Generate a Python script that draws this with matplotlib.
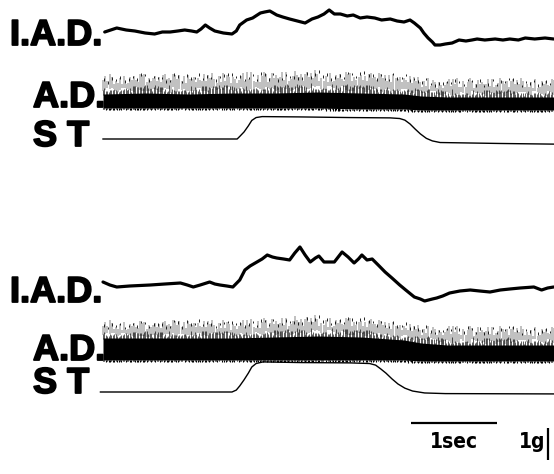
import numpy as np
import matplotlib
matplotlib.use("Agg")
import matplotlib.pyplot as plt
from matplotlib import font_manager
from matplotlib.font_manager import FontProperties
import matplotlib.patheffects as pe

# ---------------- data ----------------
# Upper record: I.A.D. (arbitrary units)
iad1_t = [0.02,0.09,0.16,0.27,0.37,0.49,0.60,0.69,0.78,0.87,0.95,1.03,1.09,1.14,1.19,
          1.24,1.30,1.40,1.50,1.55,1.59,1.67,1.74,1.83,1.88,1.94,2.02,2.09,2.17,2.26,
          2.35,2.43,2.50,2.57,2.63,2.69,2.76,2.84,2.91,2.99,3.07,3.16,3.24,3.34,3.42,
          3.50,3.57,3.62,3.69,3.73,3.78,3.83,3.86,3.92,3.98,4.06,4.14,4.22,4.29,4.35,
          4.44,4.56,4.65,4.73,4.83,4.91,5.02,5.14,5.24]
iad1_v = [13,15,17,15,14,12,11,13,13,14,15,14,13,16,20,
          17,14,12,11,14,20,25,27,32,33,34,30,28,26,24,
          22,26,28,31,35,31,31,29,30,27,28,27,25,26,24,
          23,25,22,17,12,7,3,0,0,1,2,5,4,5,6,
          5,6,5,6,5,7,6,7,6]

# Lower record: I.A.D.
iad2_t = [0.00,0.08,0.16,0.31,0.55,0.72,0.90,0.98,1.05,1.13,1.24,1.30,1.36,1.44,1.51,
          1.59,1.65,1.71,1.77,1.85,1.91,1.97,2.02,2.10,2.17,2.23,2.29,2.35,2.41,2.47,
          2.51,2.57,2.69,2.78,2.85,2.92,2.97,3.01,3.07,3.13,3.20,3.28,3.36,3.45,3.52,
          3.62,3.69,3.74,3.83,3.88,3.95,4.03,4.15,4.27,4.38,4.50,4.62,4.73,4.85,5.01,
          5.10,5.17,5.24]
iad2_v = [18,15,13,14,15,16,17,15,13,15,18,16,15,14,13,
          20,30,34,37,41,45,43,42,41,40,47,53,45,38,42,
          44,38,38,48,43,37,41,45,40,41,35,28,22,15,10,
          3,1,-1,1,2,4,7,9,10,9,8,10,11,12,13,
          10,12,13]

# S T (tension, grams)
st1_t = [0.00,1.56,1.59,1.64,1.69,1.73,1.78,1.85,2.29,2.87,3.34,3.45,3.51,3.57,3.63,
         3.69,3.76,3.83,3.92,4.15,4.62,5.24]
st1_g = [0.00,0.00,0.08,0.22,0.41,0.58,0.67,0.70,0.69,0.67,0.66,0.64,0.59,0.47,0.31,
         0.16,0.02,-0.06,-0.11,-0.12,-0.14,-0.16]
st2_t = [-0.03,1.50,1.55,1.59,1.64,1.69,1.73,1.78,1.86,2.29,2.87,3.10,3.17,3.23,3.29,
         3.36,3.43,3.51,3.60,3.74,3.98,5.24]
st2_g = [0.00,0.00,0.06,0.19,0.38,0.59,0.78,0.89,0.94,0.92,0.91,0.89,0.84,0.72,0.59,
         0.41,0.25,0.12,0.03,-0.03,-0.05,-0.06]

# A.D. (EMG) envelopes, arbitrary units above the lower edge of the dense band
ad_t = [0.0,0.5,1.0,1.5,2.0,2.5,3.0,3.5,3.7,4.0,4.5,5.0,5.24]
ad1_band_top = [14,15,14,15,15,16,15,14,12,11,11,11,11]
ad1_spike_top = [34,36,35,36,37,38,37,35,31,30,30,31,31]
ad1_band_bot = [0,0,0,0,0,0,-1,-1,-2,-2,-2,-2,-2]
ad2_band_top = [22,22,22,22,23,24,23,20,17,15,15,15,15]
ad2_spike_top = [40,40,41,40,43,45,43,38,35,35,34,35,35]
ad2_band_bot = [0,0,0,0,0,0,0,0,-1,-1,-1,-1,-1]

# relative heights of individual EMG spikes within the envelope
spike_frac = [0.55,0.90,0.30,0.72,0.45,0.98,0.20,0.62,0.80,0.35,0.70,0.50,0.93,0.25,0.66,
              0.40,0.85,0.58,0.15,0.76,0.48,0.95,0.32,0.68,0.52,0.88,0.22,0.60,0.78,0.42,
              0.97,0.28,0.64,0.46,0.83,0.36,0.74,0.18,0.90,0.56,0.38,0.81,0.26,0.69,0.50,
              0.94,0.33,0.61,0.77,0.44,0.99,0.21,0.67,0.54,0.86,0.30,0.73,0.47,0.91,0.24,
              0.63,0.39,0.82,0.57,0.17,0.75,0.49,0.96,0.34,0.65,0.43,0.87,0.27,0.71,0.53,
              0.92,0.19,0.59,0.79,0.41,0.98,0.29,0.66,0.45,0.84,0.37,0.72,0.23,0.89,0.55,
              0.31,0.80,0.48,0.93,0.26,0.62,0.51,0.86,0.35,0.70]

trace_labels = ["I.A.D.", "A.D.", "S T"]
time_bar_s = 1.0
force_bar_g = 1.0
time_bar_label = "1sec"
force_bar_label = "1g"

# ---------------- layout ----------------
W, H = 554, 474
PX_PER_S = 86.0
X0 = 103.0
PX_PER_G = 32.0

names = {f.name for f in font_manager.fontManager.ttflist}
big_font = "Liberation Sans" if "Liberation Sans" in names else "DejaVu Sans"

# look for a condensed bold face for the calibration labels
cond = None
for f in font_manager.fontManager.ttflist:
    st = str(f.stretch).lower()
    nm = f.name.lower()
    fn = f.fname.lower()
    if ("narrow" in nm or "condensed" in nm or "condensed" in st or "condensed" in fn
            or "narrow" in fn) and (str(f.weight) in ("700", "bold") or "bold" in fn):
        if "oblique" in fn or "italic" in fn:
            continue
        cond = f.fname
        break
if cond is not None:
    small_fp = FontProperties(fname=cond, size=15)
else:
    small_fp = FontProperties(family=big_font, weight="bold", size=12.5)

fig = plt.figure(figsize=(W / 100, H / 100), dpi=100)
ax = fig.add_axes([0, 0, 1, 1])
ax.set_xlim(-X0 / PX_PER_S, (W - X0) / PX_PER_S)
ax.set_ylim(H, 0)
ax.axis("off")


def draw_iad(t, v, base):
    ax.plot(t, base - np.asarray(v, float), color="black", lw=2.3,
            solid_joinstyle="round", solid_capstyle="round")


def draw_st(t, g, base):
    ax.plot(t, base - np.asarray(g, float) * PX_PER_G, color="black", lw=1.0)


frac_all = np.array(spike_frac)
nf = len(frac_all)


def perm(k, n):
    idx = (np.arange(n) * k + 11) % nf
    return frac_all[idx]


def draw_ad(base, band_top, spike_top, band_bot):
    tt = np.array(ad_t)
    bt = base - np.asarray(band_top, float)
    bb = base - np.asarray(band_bot, float)
    ax.fill_between(tt, bb, bt, color="black", lw=0)

    # dense lower stripes just above the band
    n1 = 320
    ts = np.linspace(tt[0], tt[-1], n1)
    bti = np.interp(ts, tt, band_top)
    sti = np.interp(ts, tt, spike_top)
    bbi = np.interp(ts, tt, band_bot)
    rng = sti - bti
    fa = perm(37, n1)
    ax.vlines(ts, base - bti + 1, base - (bti + 0.4 * fa * rng), color="black", lw=0.45)

    # taller, thinner spikes (some broken)
    n2 = 220
    ts2 = np.linspace(tt[0], tt[-1], n2) + 0.004
    bti2 = np.interp(ts2, tt, band_top)
    sti2 = np.interp(ts2, tt, spike_top)
    rng2 = sti2 - bti2
    fb = perm(23, n2)
    fc = perm(41, n2)
    lo = bti2 + 0.3 * fc * rng2
    hi = bti2 + (0.35 + 0.65 * fb) * rng2
    ax.vlines(ts2, base - lo, base - hi, color="black", lw=0.35)

    # short strokes scattered near the upper envelope
    n3 = 110
    ts3 = np.linspace(tt[0], tt[-1], n3) + 0.011
    bti3 = np.interp(ts3, tt, band_top)
    sti3 = np.interp(ts3, tt, spike_top)
    rng3 = sti3 - bti3
    fd = perm(53, n3)
    top3 = bti3 + (0.55 + 0.45 * fd) * rng3
    ax.vlines(ts3, base - top3 + 2.5, base - top3, color="black", lw=0.6)

    # fuzzy lower edge of the band
    fe = perm(29, n1)
    ax.vlines(ts, base - bbi, base - bbi + 2.5 * fe, color="black", lw=0.8)


# upper record
draw_iad(iad1_t, iad1_v, 45)
draw_ad(108, ad1_band_top, ad1_spike_top, ad1_band_bot)
draw_st(st1_t, st1_g, 139)
# lower record
draw_iad(iad2_t, iad2_v, 300)
draw_ad(360, ad2_band_top, ad2_spike_top, ad2_band_bot)
draw_st(st2_t, st2_g, 392)

# trace labels
heavy = [pe.withStroke(linewidth=1.3, foreground="black")]
lab_pos = [(10, 45), (33, 107), (33, 146), (10, 302), (33, 360), (33, 393)]
for i, (x, y) in enumerate(lab_pos):
    fig.text(x / W, 1 - y / H, trace_labels[i % 3], fontsize=26, fontweight="bold",
             family=big_font, va="baseline", ha="left", color="black", path_effects=heavy)

# calibration bars
t_bar0 = (411 - X0) / PX_PER_S
ax.plot([t_bar0, t_bar0 + time_bar_s], [423, 423], color="black", lw=1.6, solid_capstyle="butt")
fig.text((t_bar0 + time_bar_s / 2) * PX_PER_S / W + X0 / W, 1 - 448 / H, time_bar_label,
         fontproperties=small_fp, ha="center", va="baseline")
t_g = (548 - X0) / PX_PER_S
ax.plot([t_g, t_g], [460, 460 - force_bar_g * PX_PER_G], color="black", lw=1.6, solid_capstyle="butt")
fig.text(532 / W, 1 - 448 / H, force_bar_label, fontproperties=small_fp,
         ha="center", va="baseline")

fig.savefig("out.png", dpi=100, facecolor="white")
